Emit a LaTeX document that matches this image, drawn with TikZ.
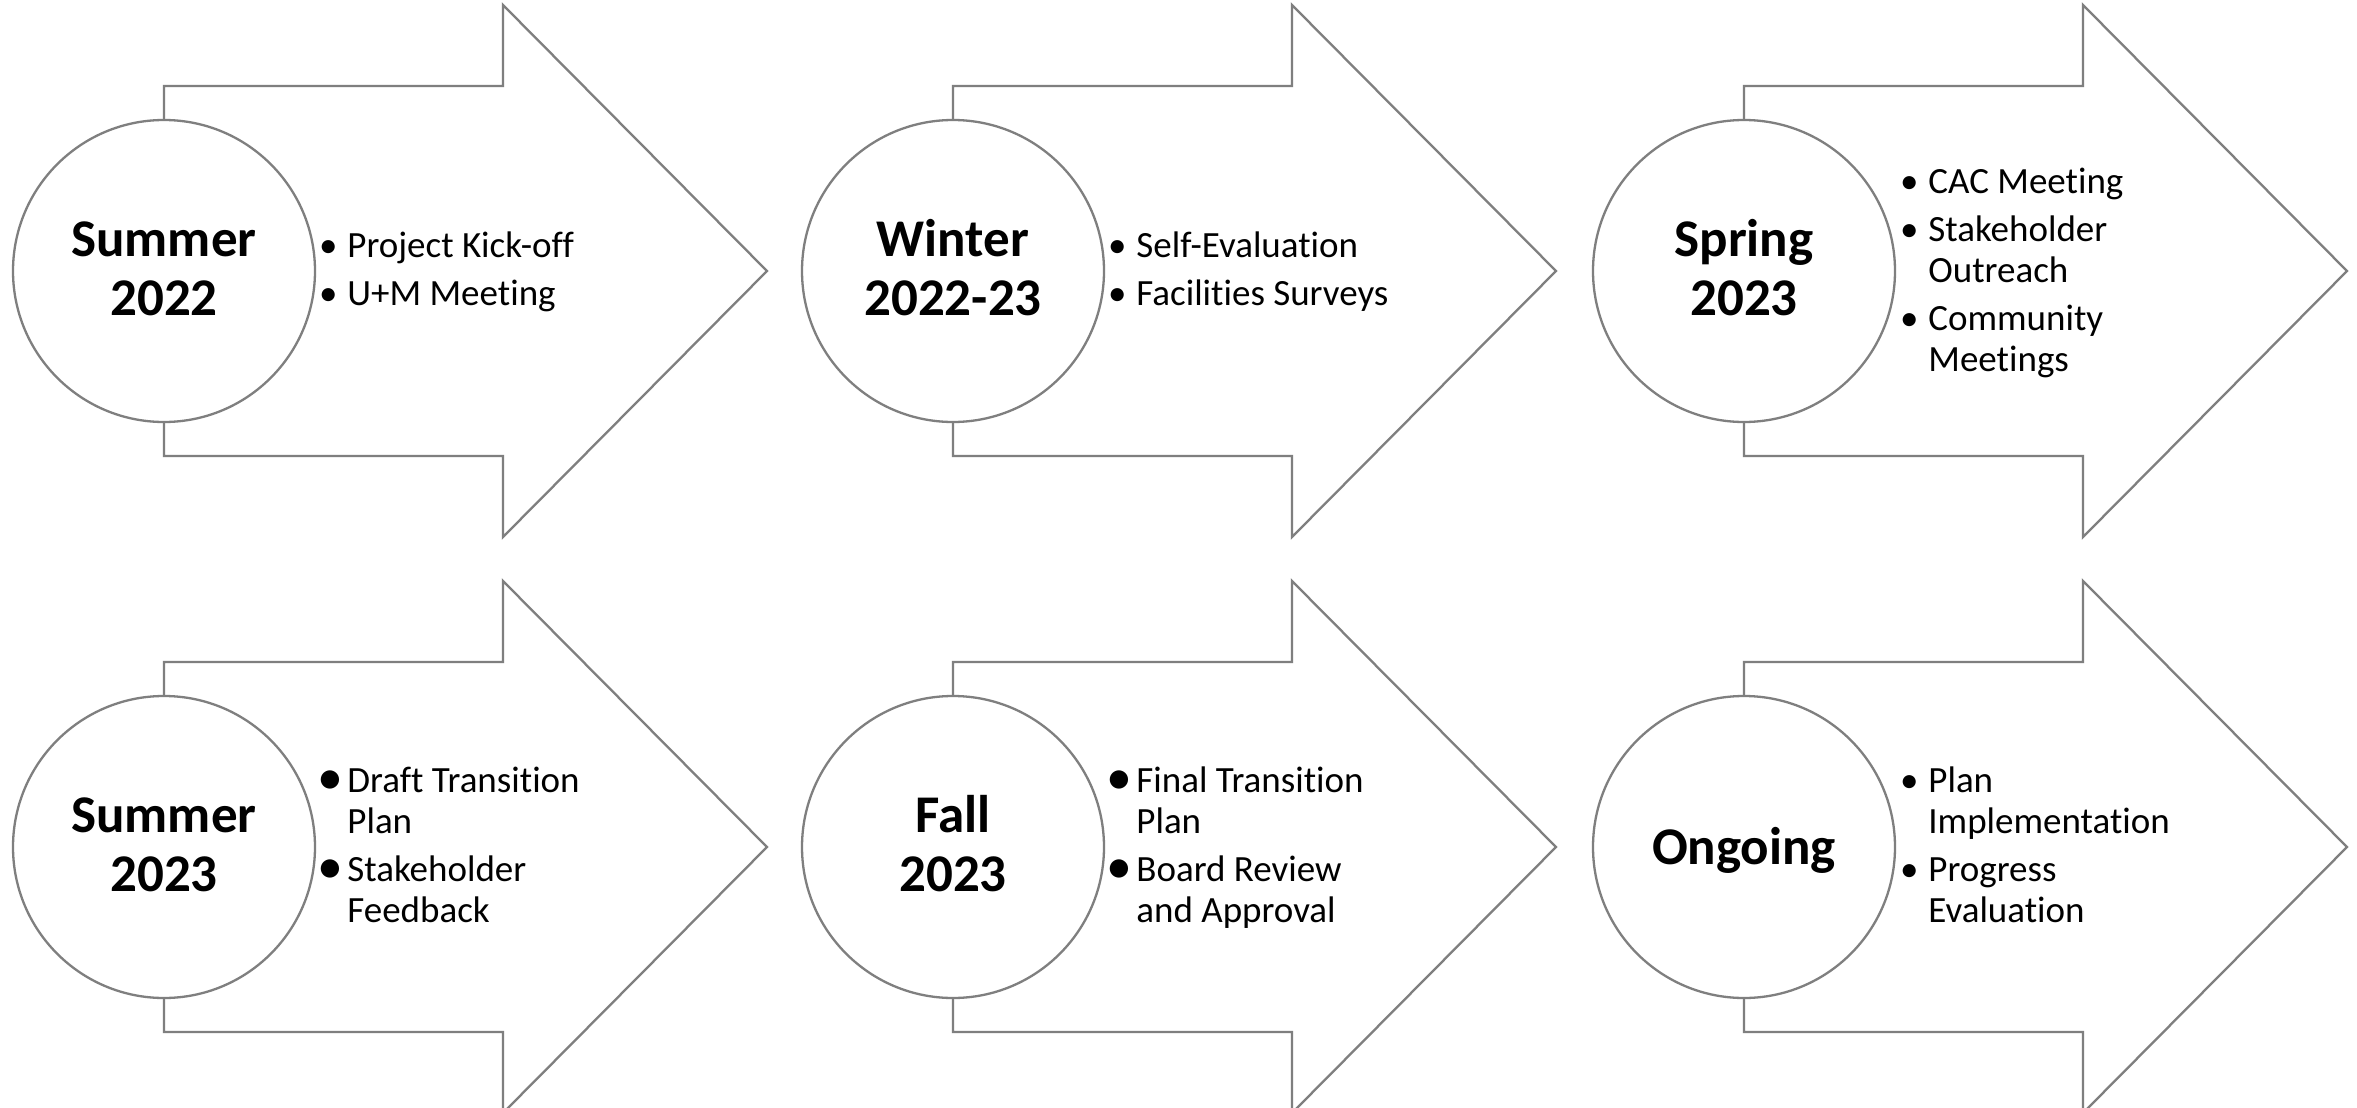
\documentclass[tikz,border=0pt]{standalone}
\usepackage{fontspec}
\setmainfont{Carlito}[Ligatures=NoCommon]
\usepackage{graphicx}
\definecolor{linegray}{HTML}{7F7F7F}
\newcommand\bl{\llap{\makebox[19pt][c]{•}}}
\newcommand\bigbl{\llap{\makebox[17pt][c]{\raisebox{-1.3pt}{\scalebox{1.4}{•}}}}}
\tikzset{
  arrowshape/.style={draw=linegray, line width=1.15pt, fill=white, line join=miter},
  stagecircle/.style={circle, draw=linegray, line width=1.15pt, fill=white, minimum size=151pt, inner sep=0pt},
  titletext/.style={inner sep=0pt, font=\fontsize{26.5}{29.5}\selectfont\bfseries},
  listtext/.style={inner sep=0pt, font=\fontsize{18.5}{20.5}\selectfont}
}
\newcommand\stagearrow{%
  \draw[arrowshape] (164,86) -- (503,86) -- (503,5) -- (767,271) -- (503,537) -- (503,456) -- (164,456) -- cycle;
}
\begin{document}
\begin{tikzpicture}[x=0.5pt,y=-0.5pt]
\useasboundingbox (0,0) rectangle (2357,1108);
\clip (0,0) rectangle (2357,1108);
\fill[white] (0,0) rectangle (2357,1108);

% Row 1, column 1
\begin{scope}
  \stagearrow
  \node[stagecircle] (c1) at (164,271) {};
  \node[titletext, anchor=base] (t1) at (164,256) {\begin{tabular}[t]{@{}c@{}}Summer\\2022\end{tabular}};
  \node[listtext, anchor=base west] (l1) at (347,257) {\begin{tabular}[t]{@{}l@{}}\bl Project Kick-off\\[3.5pt]\bl U+M Meeting\end{tabular}};
\end{scope}

% Row 1, column 2
\begin{scope}[shift={(789,0)}]
  \stagearrow
  \node[stagecircle] (c2) at (164,271) {};
  \node[titletext, anchor=base] (t2) at (164,256) {\begin{tabular}[t]{@{}c@{}}Winter\\2022-23\end{tabular}};
  \node[listtext, anchor=base west] (l2) at (347,257) {\begin{tabular}[t]{@{}l@{}}\bl Self-Evaluation\\[3.5pt]\bl Facilities Surveys\end{tabular}};
\end{scope}

% Row 1, column 3
\begin{scope}[shift={(1580,0)}]
  \stagearrow
  \node[stagecircle] (c3) at (164,271) {};
  \node[titletext, anchor=base] (t3) at (164,256) {\begin{tabular}[t]{@{}c@{}}Spring\\2023\end{tabular}};
  \node[listtext, anchor=base west] (l3) at (348,193) {\begin{tabular}[t]{@{}l@{}}\bl CAC Meeting\\[3.5pt]\bl Stakeholder\\Outreach\\[3.5pt]\bl Community\\Meetings\end{tabular}};
\end{scope}

% Row 2, column 1
\begin{scope}[shift={(0,576)}]
  \stagearrow
  \node[stagecircle] (c4) at (164,271) {};
  \node[titletext, anchor=base] (t4) at (164,256) {\begin{tabular}[t]{@{}c@{}}Summer\\2023\end{tabular}};
  \node[listtext, anchor=base west] (l4) at (347,216) {\begin{tabular}[t]{@{}l@{}}\bigbl Draft Transition\\Plan\\[3.5pt]\bigbl Stakeholder\\Feedback\end{tabular}};
\end{scope}

% Row 2, column 2
\begin{scope}[shift={(789,576)}]
  \stagearrow
  \node[stagecircle] (c5) at (164,271) {};
  \node[titletext, anchor=base] (t5) at (164,256) {\begin{tabular}[t]{@{}c@{}}Fall\\2023\end{tabular}};
  \node[listtext, anchor=base west] (l5) at (347,216) {\begin{tabular}[t]{@{}l@{}}\bigbl Final Transition\\Plan\\[3.5pt]\bigbl Board Review\\and Approval\end{tabular}};
\end{scope}

% Row 2, column 3
\begin{scope}[shift={(1580,576)}]
  \stagearrow
  \node[stagecircle] (c6) at (164,271) {};
  \node[titletext, anchor=base] (t6) at (164,288) {Ongoing};
  \node[listtext, anchor=base west] (l6) at (348,216) {\begin{tabular}[t]{@{}l@{}}\bl Plan\\Implementation\\[3.5pt]\bl Progress\\Evaluation\end{tabular}};
\end{scope}
\end{tikzpicture}
\end{document}
